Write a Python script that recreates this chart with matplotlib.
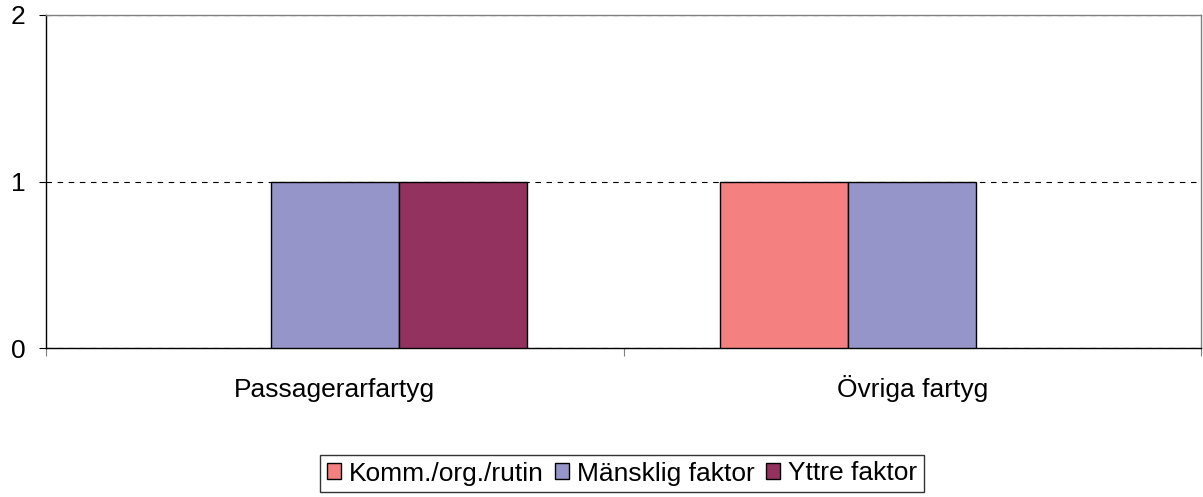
import matplotlib
matplotlib.use("Agg")
import matplotlib.pyplot as plt
import matplotlib.transforms as mtransforms
from matplotlib.patches import Patch
import numpy as np

categories = ["Passagerarfartyg", "Övriga fartyg"]
series_names = ["Komm./org./rutin", "Mänsklig faktor", "Yttre faktor"]
komm = [0, 1]
mansklig = [1, 1]
yttre = [1, 0]
yticks = [0, 1, 2]

colors = ["#F48080", "#9595C9", "#94325F"]

plt.rcParams['font.family'] = ['Liberation Sans', 'DejaVu Sans']
FS = 19

fig = plt.figure(figsize=(12.03, 4.97), dpi=100)
ax = fig.add_axes([46/1203, 1-348/497, (1201-46)/1203, (348-15)/497])

x = np.arange(len(categories))
w = 0.2215
for i, (vals, name, c) in enumerate(zip([komm, mansklig, yttre], series_names, colors)):
    bars = ax.bar(x + (i-1)*w, vals, width=w, color=c, edgecolor="black", linewidth=1.0,
                  zorder=3)
    for b in bars:
        if b.get_height() == 0:
            b.set_visible(False)

ax.set_xlim(-0.5, 1.5)
ax.set_ylim(0, 2)
ax.set_yticks(yticks)
ax.set_yticklabels([str(t) for t in yticks], fontsize=FS)
ax.yaxis.grid(True, linestyle=(0, (5, 5)), color="black", linewidth=0.8, zorder=0)
ax.set_axisbelow(True)

ax.set_xticks([-0.5, 0.5, 1.5])
ax.set_xticklabels([])
ax.tick_params(axis="x", length=6, direction="out", color="#808080")
ax.tick_params(axis="y", length=5, direction="out", pad=10)

trans = mtransforms.blended_transform_factory(ax.transData, fig.transFigure)
for xi, lab in zip(x, categories):
    ax.text(xi, 1-397/497, lab, transform=trans, ha="center", va="baseline", fontsize=FS)

for s in ["left", "bottom"]:
    ax.spines[s].set_color("black")
    ax.spines[s].set_linewidth(1.0)
for s in ["top", "right"]:
    ax.spines[s].set_color("#808080")
    ax.spines[s].set_linewidth(1.0)

handles = [Patch(facecolor=c, edgecolor="black", linewidth=1.0) for c in colors]
leg = fig.legend(handles, series_names, loc="center",
                 bbox_to_anchor=(622/1203, 1-473.5/497), ncol=3,
                 fontsize=FS, frameon=True, fancybox=False, edgecolor="black",
                 handlelength=0.55, handleheight=0.55, handletextpad=0.3,
                 columnspacing=0.4, borderpad=0.25, borderaxespad=0)
leg.get_frame().set_linewidth(1.0)

fig.savefig("out.png", dpi=100)
